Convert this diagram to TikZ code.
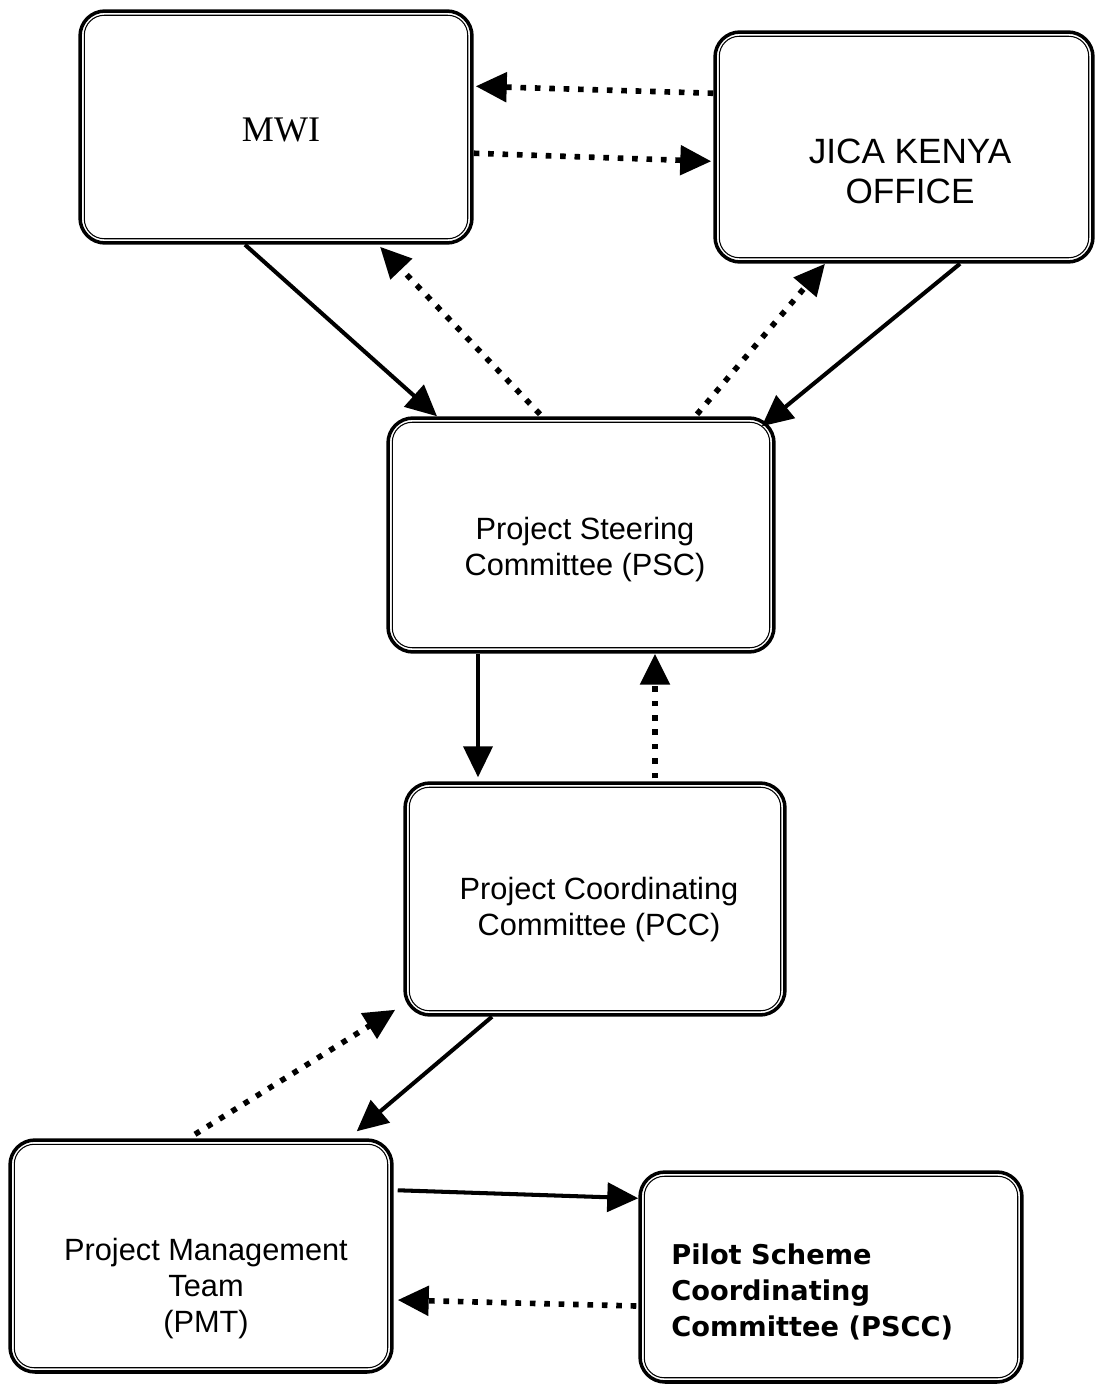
\documentclass[tikz,border=0pt]{standalone}
\usepackage{fontspec}
\setmainfont{Liberation Sans}
\newfontfamily\mwifont{Liberation Serif}
\newfontfamily\pilotfont{DejaVu Sans}
\usetikzlibrary{arrows.meta, calc}
\tikzset{box/.style 2 args={draw, line width=2pt, rounded corners=0.5cm, minimum width=#1, minimum height=#2,
    append after command={\pgfextra{\draw[line width=0.6pt, rounded corners=0.4cm]
      ([shift={(0.12cm,-0.12cm)}]\tikzlastnode.north west) rectangle ([shift={(-0.12cm,0.12cm)}]\tikzlastnode.south east);}}}}
\tikzset{txt/.style={font=\fontsize{17.5}{20.5}\selectfont, align=center, inner sep=0pt}}
\tikzset{solidarr/.style={-{Triangle[length=0.62cm, width=0.58cm]}, line width=2.3pt}}
\tikzset{dotarr/.style={-{Triangle[length=0.62cm, width=0.58cm]}, line width=3.2pt, dash pattern=on 3.2pt off 5pt}}

\begin{document}
\begin{tikzpicture}[x=0.02cm, y=-0.02cm]
\useasboundingbox (0,0) rectangle (1095,1385);

% boxes
\node[box={7.84cm}{4.64cm}] (mwi) at (276,127) {};
\node[box={7.56cm}{4.6cm}] (jica) at (904,147) {};
\node[box={7.72cm}{4.68cm}] (psc) at (581,535) {};
\node[box={7.6cm}{4.64cm}] (pcc) at (595,899) {};
\node[box={7.64cm}{4.64cm}] (pmt) at (201,1256) {};
\node[box={7.64cm}{4.2cm}] (pscc) at (831,1277) {};

% texts
\node[txt, font=\mwifont\fontsize{20.5}{24}\selectfont] (mwi-t) at ($(mwi)+(5,3)$) {MWI};
\node[txt, font=\fontsize{20}{22.8}\selectfont] (jica-t) at ($(jica)+(6,24)$) {JICA KENYA\\OFFICE};
\node[txt] (psc-t) at ($(psc)+(4,15)$) {Project Steering\\Committee (PSC)};
\node[txt] (pcc-t) at ($(pcc)+(4,11)$) {Project Coordinating\\Committee (PCC)};
\node[txt] (pmt-t) at ($(pmt)+(5,33)$) {Project Management\\Team\\(PMT)};
\node[txt, align=left, anchor=west, font=\pilotfont\bfseries\fontsize{15.5}{20.5}\selectfont] (pscc-t) at (671,1292) {Pilot Scheme\\Coordinating\\Committee (PSCC)};

% MWI <-> JICA
\draw[dotarr] ($(jica.north west)+(0,63)$) -- ($(mwi.north east)+(2,77)$);
\draw[dotarr] ($(mwi.north east)+(0,144)$) -- ($(jica.north west)+(-2,131)$);

% top level <-> PSC
\draw[solidarr] ($(mwi.south)+(-31,0)$) -- ($(psc.north)+(-144,0)$);
\draw[dotarr] ($(psc.north)+(-41,-2)$) -- ($(mwi.south)+(104,2)$);
\draw[dotarr] ($(psc.north)+(116,-2)$) -- ($(jica.south)+(-79,0)$);
\draw[solidarr] ($(jica.south)+(56,0)$) -- ($(psc.north east)+(-14,10)$);

% PSC <-> PCC
\draw[solidarr] ($(psc.south)+(-103,0)$) -- ($(pcc.north)+(-117,-4)$);
\draw[dotarr] ($(pcc.north)+(60,-3)$) -- ($(psc.south)+(74,0)$);

% PCC <-> PMT
\draw[dotarr] ($(pmt.north)+(-6,-4)$) -- ($(pcc.south west)+(-8,-7)$);
\draw[solidarr] ($(pcc.south)+(-103,0)$) -- ($(pmt.north east)+(-37,-7)$);

% PMT <-> PSCC
\draw[solidarr] ($(pmt.north east)+(4,52)$) -- ($(pscc.north west)+(0,28)$);
\draw[dotarr] ($(pscc.west)+(-2,29)$) -- ($(pmt.east)+(4,44)$);

\end{tikzpicture}
\end{document}
